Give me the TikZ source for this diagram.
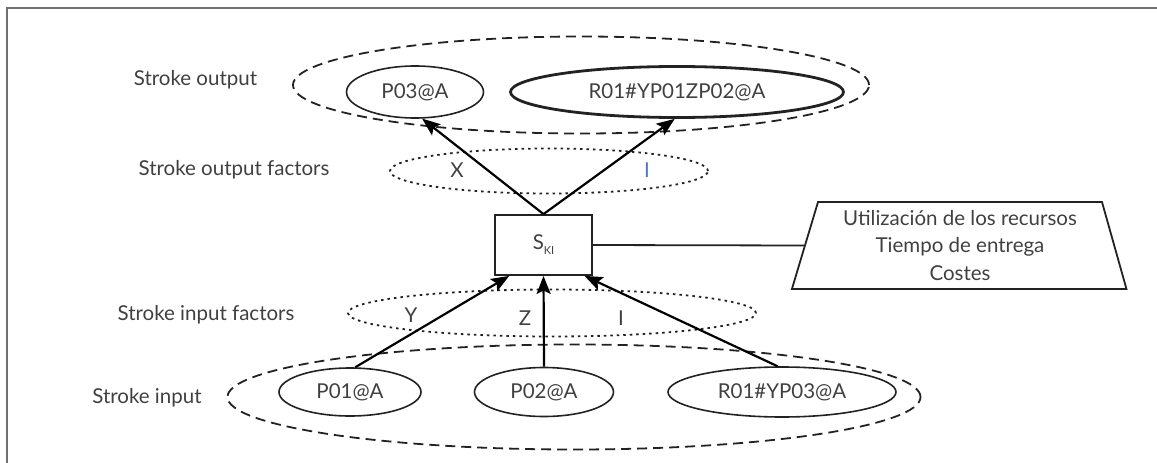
\documentclass[tikz,border=0pt]{standalone}
\usepackage{fontspec}
\setmainfont{Lato}
\usetikzlibrary{shapes.geometric,arrows.meta}
\definecolor{txt}{HTML}{404040}
\definecolor{ln}{HTML}{222222}
\definecolor{blu}{HTML}{4F78C8}
\definecolor{frm}{HTML}{707070}
\begin{document}
\begin{tikzpicture}[x=1pt,y=-1pt,
  every node/.style={font=\fontsize{20.5}{24}\selectfont, text=txt, inner sep=0pt},
  ell/.style={draw=ln, ellipse, line width=1.6pt},
  grpdash/.style={draw=ln, ellipse, line width=1.8pt, dash pattern=on 10pt off 6pt},
  grpdot/.style={draw=ln, ellipse, line width=1.8pt, dash pattern=on 2.5pt off 4pt},
  lbl/.style={anchor=center},
  arr/.style={draw=black, line width=2.2pt, -{Stealth[length=18pt,width=14pt,inset=3.5pt]}},
]
\useasboundingbox (0,0) rectangle (1157,463);
% frame
\draw[frm, line width=2pt] (7,463) -- (7,8) -- (1157,8);

% groups
\node[grpdash, minimum width=576pt, minimum height=97pt] (outg) at (581,85) {};
\node[grpdot, minimum width=318pt, minimum height=45pt] (outf) at (549,171) {};
\node[grpdot, minimum width=408pt, minimum height=47pt] (inf) at (552,313) {};
\node[grpdash, minimum width=693pt, minimum height=105pt] (ing) at (574,397) {};

% output ellipses
\node[ell, minimum width=137pt, minimum height=52pt] (p03) at (415,92) {P03@A};
\node[ell, line width=2.8pt, minimum width=333pt, minimum height=51pt] (r1) at (677,92) {R01\#YP01ZP02@A};

% input ellipses
\node[ell, minimum width=142pt, minimum height=48pt] (p01) at (350,392) {P01@A};
\node[ell, minimum width=139pt, minimum height=49pt] (p02) at (544,392) {P02@A};
\node[ell, minimum width=228pt, minimum height=50pt] (r3) at (782,392) {R01\#YP03@A};

% central box
\node[draw=ln, line width=1.8pt, minimum width=97pt, minimum height=60pt] (sk) at (543.5,245) {S\raisebox{-5pt}{\fontsize{11}{12}\selectfont KI}};

% trapezium
\node[draw=ln, line width=1.8pt, trapezium, trapezium left angle=73, trapezium right angle=74,
  trapezium stretches=true, minimum width=336pt, minimum height=87pt, align=center,
  font=\fontsize{20.5}{27.5}\selectfont] (tr) at (960,245.5)
  {Utilización de los recursos\\Tiempo de entrega\\Costes};

% labels
\node[lbl] (lso) at (195.5,80) {Stroke output};
\node[lbl] (lsof) at (234,170) {Stroke output factors};
\node[lbl] (lsif) at (206,315) {Stroke input factors};
\node[lbl] (lsi) at (147,398) {Stroke input};
\node (fx) at (457,170) {X};
\node[text=blu] (f1) at (647,170) {I};
\node (fy) at (411,315) {Y};
\node (fz) at (525,318) {Z};
\node (fi) at (621,318) {I};

% connectors
\draw[arr] (sk.north) -- (p03.-75);
\draw[arr] (sk.north) -- (r1.-95);
\draw[arr] (p01.78) -- (sk.222);
\draw[arr] (p02.north) -- (sk.south);
\draw[arr] (r3.100) -- (sk.-37);
\draw[ln, line width=1.8pt] (sk.east) -- (tr.west);
\end{tikzpicture}
\end{document}
